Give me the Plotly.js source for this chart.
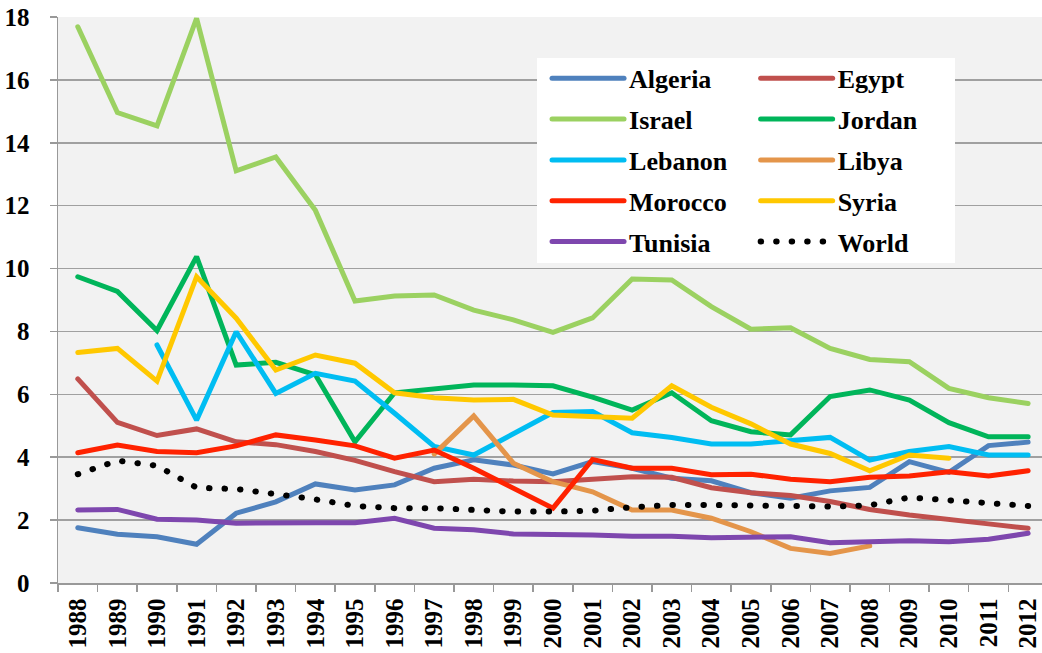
<!DOCTYPE html>
<html><head><meta charset="utf-8">
<script src="https://cdn.plot.ly/plotly-3.0.1.min.js"></script>
<style>body{margin:0;background:#fff}</style>
</head><body><div id="chart" style="width:1042px;height:653px"></div>
<script>
const years = ['1988','1989','1990','1991','1992','1993','1994','1995','1996','1997','1998','1999','2000','2001','2002','2003','2004','2005','2006','2007','2008','2009','2010','2011','2012'];
const algeria = [1.76,1.55,1.47,1.23,2.22,2.58,3.15,2.96,3.12,3.65,3.92,3.75,3.47,3.86,3.65,3.33,3.25,2.87,2.7,2.93,3.04,3.86,3.52,4.37,4.48];
const egypt   = [6.49,5.11,4.69,4.9,4.49,4.4,4.18,3.9,3.54,3.22,3.3,3.24,3.22,3.31,3.38,3.36,3.03,2.87,2.78,2.59,2.34,2.16,2.0,1.88,1.74];
const israel  = [17.69,14.96,14.54,17.96,13.11,13.55,11.85,8.97,9.13,9.16,8.68,8.37,7.97,8.43,9.67,9.64,8.79,8.07,8.12,7.46,7.11,7.04,6.19,5.89,5.71];
const jordan  = [9.74,9.27,8.03,10.38,6.93,7.02,6.62,4.49,6.05,6.16,6.3,6.3,6.27,5.91,5.5,6.05,5.16,4.81,4.71,5.93,6.14,5.82,5.1,4.65,4.65];
const lebanon = [null,null,7.57,5.18,7.99,6.03,6.67,6.42,5.4,4.34,4.07,4.76,5.42,5.45,4.78,4.63,4.42,4.42,4.53,4.63,3.91,4.18,4.34,4.07,4.07];
const libya   = [null,null,null,null,null,null,null,null,null,4.1,5.31,3.81,3.22,2.9,2.32,2.32,2.06,1.63,1.1,0.94,1.18,null,null,null,null];
const morocco = [4.14,4.39,4.18,4.14,4.36,4.71,4.55,4.36,3.97,4.23,3.65,3.01,2.38,3.93,3.65,3.65,3.44,3.46,3.3,3.22,3.36,3.4,3.54,3.4,3.57];
const syria   = [7.33,7.46,6.42,9.74,8.42,6.77,7.25,6.99,6.05,5.89,5.82,5.84,5.34,5.29,5.24,6.27,5.59,5.06,4.42,4.12,3.57,4.07,3.97,null,null];
const tunisia = [2.32,2.34,2.03,2.0,1.9,1.92,1.92,1.92,2.06,1.74,1.69,1.56,1.56,1.53,1.49,1.49,1.44,1.47,1.47,1.28,1.31,1.34,1.31,1.39,1.58];
const world   = [3.46,3.89,3.73,3.03,2.99,2.83,2.66,2.45,2.38,2.38,2.32,2.27,2.27,2.3,2.41,2.48,2.48,2.48,2.45,2.43,2.47,2.72,2.62,2.51,2.45];

const FONT = '"Liberation Serif", "Times New Roman", serif';
function tr(name, y, color, leg) {
  return {x: years, y: y, name: name, type: 'scatter', mode: 'lines',
    line: {color: color, width: 5}, legend: leg, legendgroup: name, connectgaps: false, hoverinfo: 'skip'};
}
const data = [
  tr('Algeria', algeria, '#4F81BD', 'legend'),
  tr('Egypt', egypt, '#C0504D', 'legend2'),
  tr('Israel', israel, '#9BD161', 'legend'),
  tr('Jordan', jordan, '#00B55A', 'legend2'),
  tr('Lebanon', lebanon, '#00BDF2', 'legend'),
  tr('Libya', libya, '#E4954A', 'legend2'),
  tr('Morocco', morocco, '#FF2200', 'legend'),
  tr('Syria', syria, '#FFC800', 'legend2'),
  tr('Tunisia', tunisia, '#7E47AE', 'legend'),
  Object.assign(tr('World', world, '#000000', 'legend2'), {line: {color: '#000', width: 6, dash: '0.5px,15px'}})
];
const legFont = {family: FONT, size: 26, weight: 'bold', color: '#000'};
const layout = {
  width: 1042, height: 653,
  margin: {l: 58, r: 0, t: 17, b: 70},
  paper_bgcolor: '#fff', plot_bgcolor: '#F2F2F2',
  showlegend: true,
  xaxis: {type: 'category', range: [-0.5, 24.35], tickson: 'boundaries', ticks: 'outside', ticklen: 7,
    tickcolor: '#999', tickwidth: 1.5, showline: true, linecolor: '#999', linewidth: 1.5,
    showgrid: false, tickangle: -90, ticklabelstandoff: 4,
    tickfont: {family: FONT, size: 25, weight: 'bold', color: '#000'}},
  yaxis: {range: [0, 18], dtick: 2, tick0: 0, ticks: 'outside', ticklen: 7, tickcolor: '#999', tickwidth: 1.5,
    showline: true, linecolor: '#999', linewidth: 1.5, gridcolor: '#A0A0A0', gridwidth: 1.5,
    zeroline: false, ticklabelstandoff: 15,
    tickfont: {family: FONT, size: 25, weight: 'bold', color: '#000'}},
  legend: {x: 0.497, y: 0.933, xanchor: 'left', yanchor: 'top', bgcolor: 'rgba(0,0,0,0)',
    itemwidth: 72, tracegroupgap: 4, font: legFont, traceorder: 'grouped'},
  legend2: {x: 0.709, y: 0.933, xanchor: 'left', yanchor: 'top', bgcolor: 'rgba(0,0,0,0)',
    itemwidth: 72, tracegroupgap: 4, font: legFont, traceorder: 'grouped'},
  shapes: [{type: 'rect', xref: 'paper', yref: 'paper', layer: 'above',
    x0: (537-58)/984, x1: (955-58)/984, y0: (583-263)/566, y1: (583-58)/566,
    fillcolor: '#fff', line: {width: 0}}]
};
Plotly.newPlot('chart', data, layout, {staticPlot: true, displayModeBar: false}).then(function(){
  document.querySelectorAll('.js-line').forEach(function(p){ p.style.strokeLinecap = 'round'; });
});
</script></body></html>
